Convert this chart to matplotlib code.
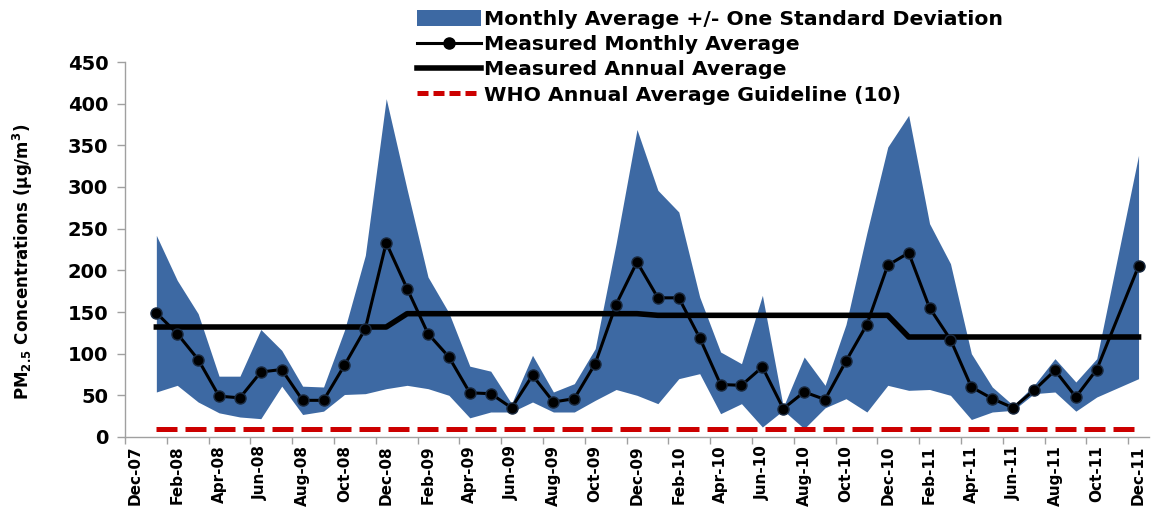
import numpy as np
import matplotlib
matplotlib.use("Agg")
import matplotlib.pyplot as plt
from matplotlib.patches import Patch
from matplotlib.lines import Line2D

# ---- data (Jan-08 .. Dec-11, monthly; Nov-11 missing) ----
monthly_mean = [149, 124, 93, 49, 47, 78, 81, 44, 44, 86, 130, 233,
                178, 124, 96, 53, 52, 35, 74, 42, 46, 88, 159, 210,
                167, 167, 119, 63, 62, 84, 34, 54, 45, 91, 135, 206,
                221, 155, 117, 60, 46, 35, 56, 80, 48, 81, np.nan, 205]
upper_sd = [242, 188, 148, 73, 73, 129, 104, 61, 60, 128, 218, 406,
            297, 192, 149, 85, 79, 40, 98, 54, 64, 106, 232, 369,
            296, 270, 168, 102, 88, 170, 36, 96, 62, 135, 245, 348,
            386, 256, 208, 100, 60, 38, 62, 94, 66, 94, np.nan, 338]
lower_sd = [54, 62, 42, 29, 24, 22, 61, 27, 31, 51, 52, 58,
            62, 58, 50, 23, 30, 30, 42, 30, 30, 44, 57, 50,
            40, 70, 76, 28, 40, 12, 32, 10, 35, 46, 30, 62,
            56, 57, 50, 21, 30, 32, 52, 54, 31, 48, np.nan, 70]
years = [2008, 2009, 2010, 2011]
annual_avg = [132, 148, 146, 120]
who_guideline = 10
tick_labels = ['Dec-07', 'Feb-08', 'Apr-08', 'Jun-08', 'Aug-08', 'Oct-08', 'Dec-08',
               'Feb-09', 'Apr-09', 'Jun-09', 'Aug-09', 'Oct-09', 'Dec-09',
               'Feb-10', 'Apr-10', 'Jun-10', 'Aug-10', 'Oct-10', 'Dec-10',
               'Feb-11', 'Apr-11', 'Jun-11', 'Aug-11', 'Oct-11', 'Dec-11']

# month positions: 0 = start of Dec-07, data at mid-month
n = len(monthly_mean)
x = np.arange(n) + 1.5
mean = np.array(monthly_mean, dtype=float)
up = np.array(upper_sd, dtype=float)
lo = np.array(lower_sd, dtype=float)
valid = ~np.isnan(mean)
annual_monthly = np.repeat(annual_avg, 12)

BLUE = '#3d69a3'
plt.rcParams['font.family'] = 'DejaVu Sans'

fig = plt.figure(figsize=(11.68, 5.13), dpi=100)
ax = fig.add_axes([125 / 1168, 1 - 437 / 513, 1024 / 1168, 375 / 513])

ax.fill_between(x[valid], lo[valid], up[valid], color=BLUE, linewidth=0, zorder=1)
ax.plot(x, np.full(n, who_guideline), color='#cc0000', linewidth=3.6,
        dashes=(4.2, 1.6), zorder=2)
ax.plot(x, annual_monthly, color='black', linewidth=4, zorder=3,
        solid_joinstyle='round')
ax.plot(x[valid], mean[valid], color='black', linewidth=2.2, marker='o',
        markersize=8, markerfacecolor='black', markeredgecolor='#1a2a40',
        markeredgewidth=1, zorder=4)

ax.set_xlim(0, 49)
ax.set_ylim(0, 450)
ax.set_yticks(np.arange(0, 451, 50))
ax.set_xticks(np.arange(0, 49, 2))
ax.set_xticklabels([])
ax.set_xticks(np.arange(0, 49, 2) + 0.5, minor=True)
ax.set_xticklabels(tick_labels, minor=True, rotation=90, fontsize=11,
                   fontweight='bold')
ax.tick_params(axis='x', which='minor', length=0, pad=6)
ax.tick_params(axis='x', which='major', length=5, color='#a0a0a0', width=1)
ax.tick_params(axis='y', length=6, color='#a0a0a0', width=1, labelsize=14, pad=6)
for lab in ax.get_yticklabels():
    lab.set_fontweight('bold')

for s in ['top', 'right']:
    ax.spines[s].set_visible(False)
for s in ['left', 'bottom']:
    ax.spines[s].set_color('#a0a0a0')
    ax.spines[s].set_linewidth(1)

fig.text(23 / 1168, 1 - 262 / 513,
         r'PM$_{\mathbf{2.5}}$ Concentrations ($\mathbf{\mu}$g/m$^{\mathbf{3}}$)',
         rotation=90, fontsize=12, fontweight='bold', ha='center', va='center')

handles = [Patch(facecolor=BLUE, edgecolor='none'),
           Line2D([], [], color='black', linewidth=2.2, marker='o', markersize=8),
           Line2D([], [], color='black', linewidth=4),
           Line2D([], [], color='#cc0000', linewidth=3.6, dashes=(2.2, 1.0))]
labels = ['Monthly Average +/- One Standard Deviation',
          'Measured Monthly Average',
          'Measured Annual Average',
          'WHO Annual Average Guideline (10)']
leg = fig.legend(handles, labels, loc='upper left', bbox_to_anchor=(0.345, 1.008),
                 frameon=False, prop={'weight': 'bold', 'size': 14.7},
                 handlelength=3.1, handleheight=0.8, handletextpad=0.15,
                 labelspacing=0.3, borderpad=0.2)

fig.savefig('out.png', dpi=100)
